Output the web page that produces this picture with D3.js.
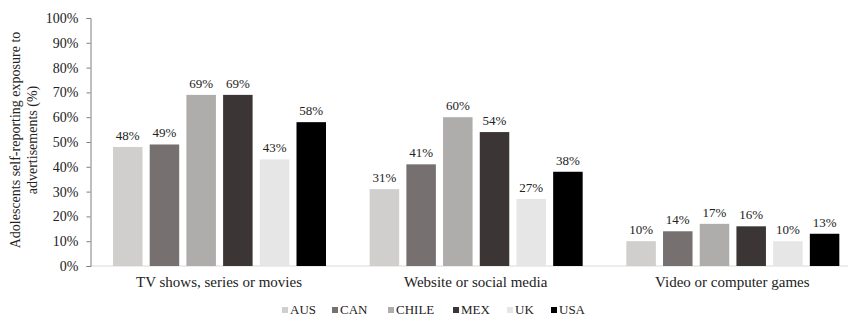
<!DOCTYPE html>
<html>
<head>
<meta charset="utf-8">
<script src="https://cdn.jsdelivr.net/npm/d3@7"></script>
<style>
  body { margin: 0; background: #fff; }
  svg text { font-family: "Liberation Serif", "DejaVu Serif", serif; fill: #222; }
</style>
</head>
<body>
<div id="chart"></div>
<script>
// --- Data ---
const categories = ['TV shows, series or movies', 'Website or social media', 'Video or computer games'];
const countries = ['AUS', 'CAN', 'CHILE', 'MEX', 'UK', 'USA'];
const aus = [48, 31, 10];
const can = [49, 41, 14];
const chile = [69, 60, 17];
const mex = [69, 54, 16];
const uk = [43, 27, 10];
const usa = [58, 38, 13];
const yTicks = [0, 10, 20, 30, 40, 50, 60, 70, 80, 90, 100];

const seriesValues = [aus, can, chile, mex, uk, usa];
const colors = ['#d0cfcd', '#767170', '#aeadab', '#3b3536', '#e6e6e6', '#000000'];

// --- Layout ---
const width = 848, height = 316;
const margin = { left: 90, top: 18 };
const plotBottom = 266;

const svg = d3.select('#chart').append('svg')
    .attr('width', width)
    .attr('height', height);

const x0 = d3.scaleBand().domain(categories).range([90, 860]).padding(0);
const x1 = d3.scaleBand().domain(countries).range([23, 236]).paddingInner(0.196).paddingOuter(0);
const y = d3.scaleLinear().domain([0, 100]).range([plotBottom, margin.top]);
const color = d3.scaleOrdinal().domain(countries).range(colors);

// x baseline
svg.append('line')
    .attr('x1', 90).attr('x2', width)
    .attr('y1', plotBottom).attr('y2', plotBottom)
    .attr('stroke', '#d9d9d9').attr('stroke-width', 1);

// y axis
const yAxis = svg.append('g')
    .attr('transform', `translate(${margin.left + 0.5},0)`)
    .call(d3.axisLeft(y).tickValues(yTicks).tickSize(4).tickPadding(8).tickFormat(d => d + '%'));
yAxis.select('.domain').attr('stroke', '#7f7f7f');
yAxis.selectAll('.tick line').attr('stroke', '#7f7f7f');
yAxis.selectAll('text').style('font-size', '14px').attr('fill', '#222');

// bars
const rows = categories.map((c, i) => ({
    category: c,
    values: countries.map((k, j) => ({ country: k, value: seriesValues[j][i] }))
}));

const groups = svg.selectAll('.group').data(rows).join('g')
    .attr('class', 'group')
    .attr('transform', d => `translate(${x0(d.category)},0)`);

groups.selectAll('rect').data(d => d.values).join('rect')
    .attr('x', d => x1(d.country))
    .attr('y', d => y(d.value))
    .attr('width', x1.bandwidth())
    .attr('height', d => plotBottom - y(d.value))
    .attr('fill', d => color(d.country));

groups.selectAll('.val').data(d => d.values).join('text')
    .attr('class', 'val')
    .attr('x', d => x1(d.country) + x1.bandwidth() / 2)
    .attr('y', d => y(d.value) - 7)
    .attr('text-anchor', 'middle')
    .style('font-size', '13px')
    .text(d => d.value + '%');

// category labels
svg.selectAll('.cat').data(categories).join('text')
    .attr('class', 'cat')
    .attr('x', d => x0(d) + 129)
    .attr('y', 287)
    .attr('text-anchor', 'middle')
    .style('font-size', '15px')
    .text(d => d);

// y axis title
const title = svg.append('text')
    .attr('transform', 'translate(20,140) rotate(-90)')
    .attr('text-anchor', 'middle')
    .style('font-size', '14px');
title.append('tspan').attr('x', 0).attr('dy', 0).text('Adolescents self-reporting exposure to');
title.append('tspan').attr('x', 0).attr('dy', 17).text('advertisements (%)');

// legend
const legendX = [282, 332, 388, 453, 507, 551];
const legend = svg.selectAll('.leg').data(countries).join('g')
    .attr('class', 'leg')
    .attr('transform', (d, i) => `translate(${legendX[i]},307)`);
legend.append('rect')
    .attr('width', 6).attr('height', 6)
    .attr('fill', d => color(d));
legend.append('text')
    .attr('x', 8).attr('y', 6.5)
    .style('font-size', '13px')
    .text(d => d);
</script>
</body>
</html>
